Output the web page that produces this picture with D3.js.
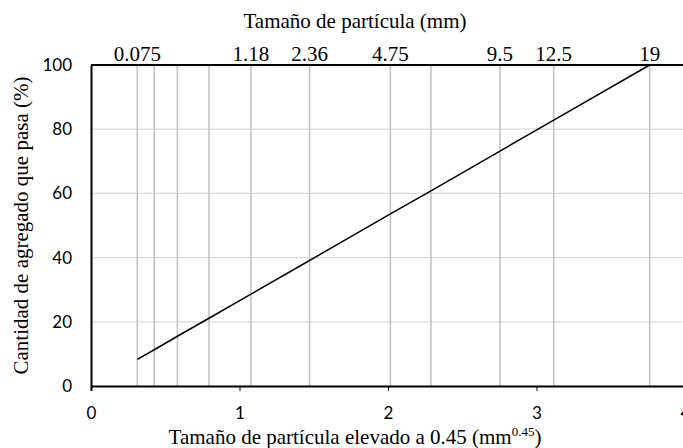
<!DOCTYPE html>
<html>
<head>
<meta charset="utf-8">
<script src="https://cdn.jsdelivr.net/npm/d3@7"></script>
<style>
  body { margin: 0; background: #fff; }
  svg { display: block; }
  .serif { font-family: "Liberation Serif", "Times New Roman", serif; }
  .sans { font-family: Lato, "Liberation Sans", sans-serif; }
</style>
</head>
<body>
<div id="chart"></div>
<script>
// sieve sizes in mm (vertical lines) and the percent passing
let sieves = [0.075, 0.15, 0.3, 0.6, 1.18, 2.36, 4.75, 6.3, 9.5, 12.5, 19];
let passing = [8.3, 11.3, 15.5, 21.1, 28.6, 39.1, 53.6, 60.8, 73.2, 82.8, 100];
let topLabels = ['0.075', '1.18', '2.36', '4.75', '9.5', '12.5', '19'];
let xTicks = [0, 1, 2, 3, 4];
let yTicks = [0, 20, 40, 60, 80, 100];
let expo = 0.45;

let W = 683, H = 448;
let margin = {top: 65, right: -2, bottom: 62, left: 91};
let titleX = 355;

let svg = d3.select('#chart').append('svg')
    .attr('width', W).attr('height', H);

let x = d3.scaleLinear().domain([0, 4]).range([margin.left, W - margin.right]);
let y = d3.scaleLinear().domain([0, 100]).range([H - margin.bottom, margin.top]);
let xs = d => x(Math.pow(d, expo)); // mm -> position on the mm^0.45 axis

// horizontal grid
svg.append('g').selectAll('line')
    .data(yTicks.filter(d => d > 0 && d < 100))
    .join('line')
    .attr('x1', x(0)).attr('x2', x(4))
    .attr('y1', d => y(d)).attr('y2', d => y(d))
    .attr('stroke', '#d9d9d9').attr('stroke-width', 1.3);

// sieve lines
svg.append('g').selectAll('line')
    .data(sieves)
    .join('line')
    .attr('x1', xs).attr('x2', xs)
    .attr('y1', y(0)).attr('y2', y(100))
    .attr('stroke', '#bfbfbf').attr('stroke-width', 1.5);

// top border
svg.append('line')
    .attr('x1', x(0)).attr('x2', x(4))
    .attr('y1', y(100)).attr('y2', y(100))
    .attr('stroke', '#000').attr('stroke-width', 2);

// bottom axis
let xAxis = svg.append('g')
    .attr('transform', `translate(0,${y(0)})`)
    .call(d3.axisBottom(x).tickValues(xTicks).tickSize(5).tickPadding(16).tickFormat(d3.format('d')));
xAxis.select('.domain').attr('stroke-width', 2);
xAxis.selectAll('text').attr('class', 'sans').attr('font-size', 17).attr('fill', '#000');

// left axis
let yAxis = svg.append('g')
    .attr('transform', `translate(${x(0)},0)`)
    .call(d3.axisLeft(y).tickValues(yTicks).tickSize(0).tickPadding(19));
yAxis.select('.domain').attr('stroke-width', 2);
yAxis.selectAll('text').attr('class', 'sans').attr('font-size', 17).attr('fill', '#000');

// gradation line
let line = d3.line()
    .x((d, i) => xs(sieves[i]))
    .y(d => y(d));
svg.append('path')
    .datum(passing)
    .attr('d', line)
    .attr('fill', 'none')
    .attr('stroke', '#000')
    .attr('stroke-width', 1.5);

// top sieve labels
svg.append('g').selectAll('text')
    .data(topLabels)
    .join('text')
    .attr('class', 'serif')
    .attr('x', d => xs(+d))
    .attr('y', y(100) - 4)
    .attr('text-anchor', 'middle')
    .attr('font-size', 21)
    .text(d => d);

// titles
svg.append('text')
    .attr('class', 'serif')
    .attr('x', titleX).attr('y', 28)
    .attr('text-anchor', 'middle').attr('font-size', 21)
    .text('Tamaño de partícula (mm)');

let xt = svg.append('text')
    .attr('class', 'serif')
    .attr('x', titleX).attr('y', 444)
    .attr('text-anchor', 'middle').attr('font-size', 21);
xt.append('tspan').text('Tamaño de partícula elevado a 0.45 (mm');
xt.append('tspan').attr('font-size', 13).attr('dy', -8).text('0.45');
xt.append('tspan').attr('dy', 8).text(')');

svg.append('text')
    .attr('class', 'serif')
    .attr('transform', `translate(28,${(y(0) + y(100)) / 2}) rotate(-90)`)
    .attr('text-anchor', 'middle').attr('font-size', 21)
    .text('Cantidad de agregado que pasa (%)');
</script>
</body>
</html>
